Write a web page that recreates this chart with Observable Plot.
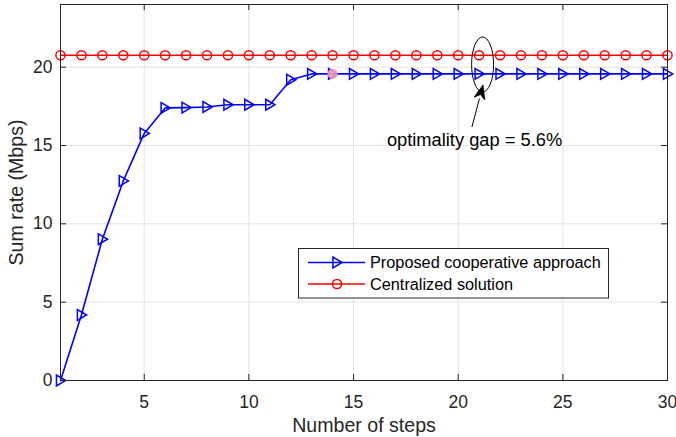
<!DOCTYPE html>
<html><head><meta charset="utf-8">
<script src="https://cdn.jsdelivr.net/npm/d3@7"></script>
<script src="https://cdn.jsdelivr.net/npm/@observablehq/plot@0.6"></script>
<style>
body{margin:0;background:#fff;}
#chart{width:676px;height:437px;}
</style></head><body><div id="chart"></div>
<script>
const steps = [1,2,3,4,5,6,7,8,9,10,11,12,13,14,15,16,17,18,19,20,21,22,23,24,25,26,27,28,29,30];
const proposed = [0,4.18,9.02,12.74,15.77,17.4,17.42,17.46,17.6,17.6,17.6,19.2,19.57,19.57,19.57,19.57,19.57,19.57,19.57,19.57,19.57,19.57,19.57,19.57,19.57,19.57,19.57,19.57,19.57,19.57];
const centralized = [20.76,20.76,20.76,20.76,20.76,20.76,20.76,20.76,20.76,20.76,20.76,20.76,20.76,20.76,20.76,20.76,20.76,20.76,20.76,20.76,20.76,20.76,20.76,20.76,20.76,20.76,20.76,20.76,20.76,20.76];
const xTicks = [5,10,15,20,25,30];
const yTicks = [0,5,10,15,20];
const seriesNames = ["Proposed cooperative approach","Centralized solution"];
const xLabel = "Number of steps";
const yLabel = "Sum rate (Mbps)";
const gapLabel = "optimality gap = 5.6%";
const highlightStep = 14;
const gapEllipseCenter = [21.19, 20.14];
const gapArrowFrom = [20.68, 16.15];
const gapArrowTo = [21.21, 18.83];
const gapLabelAt = [20.78, 15.32];

const W = 676, H = 437, mL = 60, mR = 9, mT = 4, mB = 57;
const innerW = W - mL - mR, innerH = H - mT - mB;
const ink = "#262626";
const blue = "#0000ff", red = "#ff0000";
const font = "'Liberation Sans', Arial, Helvetica, sans-serif";

const dataP = steps.map((s,i)=>({x:s, y:proposed[i]}));
const dataC = steps.map((s,i)=>({x:s, y:centralized[i]}));
const hl = dataP.filter(d=>d.x===highlightStep);

const triRight = { draw(ctx, size){ const r = Math.sqrt(size/Math.PI); ctx.moveTo(r*0.95,0); ctx.lineTo(-0.75*r,-r); ctx.lineTo(-0.75*r,r); ctx.closePath(); } };

const chart = Plot.plot({
  width: W, height: H,
  marginLeft: mL, marginRight: mR, marginTop: mT, marginBottom: mB,
  style: {fontFamily: font, color: ink, background: "#fff"},
  x: {domain: [1,30]},
  y: {domain: [0,24]},
  marks: [
    Plot.gridX(xTicks, {stroke: "#e3e3e3", strokeOpacity: 1}),
    Plot.gridY(yTicks, {stroke: "#e3e3e3", strokeOpacity: 1}),
    Plot.tickX(xTicks, {x: d=>d, insetTop: innerH-6, stroke: ink}),
    Plot.tickX(xTicks, {x: d=>d, insetBottom: innerH-6, stroke: ink}),
    Plot.tickY(yTicks, {y: d=>d, insetRight: innerW-6, stroke: ink}),
    Plot.tickY(yTicks, {y: d=>d, insetLeft: innerW-6, stroke: ink}),
    Plot.axisX(xTicks, {tickSize: 0, tickPadding: 15, fontSize: 17.5, fill: ink, label: null}),
    Plot.axisY(yTicks, {tickSize: 0, tickPadding: 8, fontSize: 17.5, fill: ink, label: null}),
    Plot.text([xLabel], {frameAnchor: "bottom", dy: 45, fontSize: 19.6, fill: ink, lineAnchor: "middle", textAnchor: "middle"}),
    Plot.text([yLabel], {frameAnchor: "left", dx: -44, rotate: -90, fontSize: 19.6, fill: ink, lineAnchor: "middle", textAnchor: "middle"}),
    Plot.line(dataC, {x: "x", y: "y", stroke: red, strokeWidth: 1.6}),
    Plot.dot(dataC, {x: "x", y: "y", r: 4.6, stroke: red, strokeWidth: 1.5, fill: "none"}),
    Plot.line(dataP, {x: "x", y: "y", stroke: blue, strokeWidth: 1.6}),
    Plot.dot(dataP, {x: "x", y: "y", r: 5.4, symbol: triRight, stroke: blue, strokeWidth: 1.5, fill: "none"}),
    Plot.dot(hl, {x: "x", y: "y", r: 5.2, fill: "#f29ab4", stroke: "none", fillOpacity: 0.9}),
    Plot.text([gapLabel], {x: ()=>gapLabelAt[0], y: ()=>gapLabelAt[1], fontSize: 18.3, fill: "#000", textAnchor: "middle", lineAnchor: "middle"}),
    Plot.frame({stroke: ink, strokeWidth: 1})
  ]
});
document.getElementById("chart").appendChild(chart);

const sx = chart.scale("x"), sy = chart.scale("y");
const svg = d3.select(chart);
// annotation ellipse
svg.append("ellipse")
  .attr("cx", sx.apply(gapEllipseCenter[0])).attr("cy", sy.apply(gapEllipseCenter[1]))
  .attr("rx", 11).attr("ry", 27.5)
  .attr("fill", "none").attr("stroke", "#000").attr("stroke-width", 1);
// annotation arrow with filled head
{
  const x1 = sx.apply(gapArrowFrom[0]), y1 = sy.apply(gapArrowFrom[1]);
  const x2 = sx.apply(gapArrowTo[0]), y2 = sy.apply(gapArrowTo[1]);
  const ang = Math.atan2(y2-y1, x2-x1);
  const L = 14, Wd = 5.5;
  const bx = x2 - L*Math.cos(ang), by = y2 - L*Math.sin(ang);
  const nx = -Math.sin(ang), ny = Math.cos(ang);
  svg.append("line").attr("x1", x1).attr("y1", y1).attr("x2", bx).attr("y2", by)
    .attr("stroke", "#000").attr("stroke-width", 1);
  const mx = x2 - 0.7*L*Math.cos(ang), my = y2 - 0.7*L*Math.sin(ang);
  svg.append("path")
    .attr("d", `M${x2},${y2}L${bx+nx*Wd},${by+ny*Wd}L${mx},${my}L${bx-nx*Wd},${by-ny*Wd}Z`)
    .attr("fill", "#000").attr("stroke", "#000").attr("stroke-width", 0.8);
}
// legend
{
  const g = svg.append("g").attr("font-family", font).attr("text-anchor", "start");
  g.append("rect").attr("x", 298.5).attr("y", 248.5).attr("width", 310).attr("height", 49.5)
    .attr("fill", "#fff").attr("stroke", ink).attr("stroke-width", 1);
  const rows = [{name: seriesNames[0], color: blue, sym: "tri", y: 262.5}, {name: seriesNames[1], color: red, sym: "circ", y: 284}];
  for (const r of rows) {
    g.append("line").attr("x1", 308).attr("x2", 365).attr("y1", r.y).attr("y2", r.y)
      .attr("stroke", r.color).attr("stroke-width", 1.6);
    if (r.sym === "tri") {
      const p = d3.path(); triRight.draw(p, 5.4*5.4*Math.PI);
      g.append("path").attr("d", p.toString()).attr("transform", `translate(337,${r.y})`)
        .attr("fill", "none").attr("stroke", r.color).attr("stroke-width", 1.5);
    } else {
      g.append("circle").attr("cx", 337).attr("cy", r.y).attr("r", 4.6)
        .attr("fill", "none").attr("stroke", r.color).attr("stroke-width", 1.5);
    }
    g.append("text").attr("x", 370).attr("y", r.y).attr("dy", "0.35em")
      .attr("text-anchor", "start")
      .attr("font-size", 16.3).attr("fill", "#000").text(r.name);
  }
}
</script></body></html>
